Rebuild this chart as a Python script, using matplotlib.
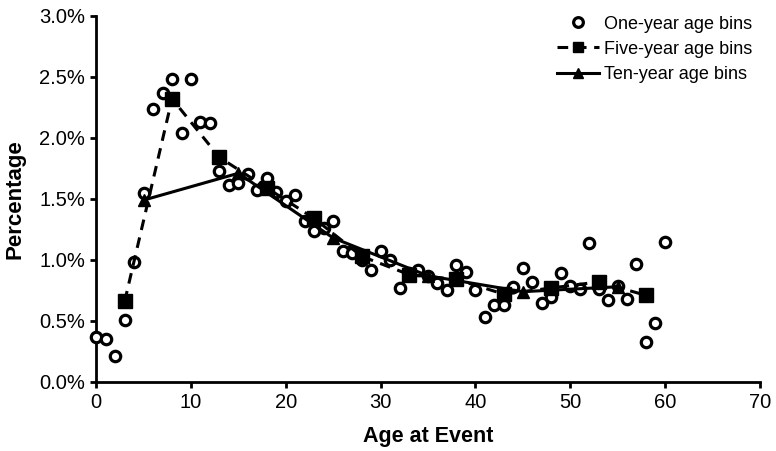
import matplotlib
matplotlib.use("Agg")
import matplotlib.pyplot as plt
from matplotlib.ticker import FuncFormatter

plt.rcParams['font.family'] = ['Liberation Sans', 'DejaVu Sans']

# one-year bins (age 0..60), percent
ages_1 = list(range(0, 61))
pct_1 = [0.37, 0.35, 0.21, 0.51, 0.98, 1.55, 2.24, 2.37, 2.48, 2.04,
         2.48, 2.13, 2.12, 1.73, 1.61, 1.63, 1.70, 1.57, 1.67, 1.56,
         1.48, 1.53, 1.32, 1.24, 1.26, 1.32, 1.07, 1.06, 1.00, 0.92,
         1.07, 1.00, 0.77, 0.89, 0.92, 0.87, 0.81, 0.75, 0.96, 0.90,
         0.75, 0.53, 0.63, 0.63, 0.78, 0.93, 0.82, 0.645, 0.70, 0.89,
         0.79, 0.76, 1.135, 0.76, 0.67, 0.79, 0.68, 0.97, 0.33, 0.48,
         1.145]

# five-year bins
ages_5 = [3, 8, 13, 18, 23, 28, 33, 38, 43, 48, 53, 58]
pct_5 = [0.66, 2.32, 1.84, 1.59, 1.34, 1.03, 0.88, 0.84, 0.72, 0.77, 0.82, 0.71]

# ten-year bins
ages_10 = [5, 15, 25, 35, 45, 55]
pct_10 = [1.49, 1.71, 1.18, 0.87, 0.74, 0.78]

fig = plt.figure(figsize=(7.76, 4.51), dpi=100)
ax = fig.add_axes([0.124, 0.153, 0.855, 0.812])

ax.plot(ages_1, pct_1, linestyle='none', marker='o', markersize=7.5,
        markerfacecolor='white', markeredgecolor='black', markeredgewidth=2.3,
        label='One-year age bins', zorder=3, clip_on=False)
ax.plot(ages_5, pct_5, linestyle=(0, (3.5, 2.5)), color='black', linewidth=2.2,
        marker='s', markersize=10, label='Five-year age bins', zorder=4)
ax.plot(ages_10, pct_10, linestyle='-', color='black', linewidth=2.2,
        marker='^', markersize=9, label='Ten-year age bins', zorder=4)

ax.set_xlim(0, 70)
ax.set_ylim(0, 3.0)
ax.set_xticks(range(0, 71, 10))
ax.set_yticks([0, 0.5, 1.0, 1.5, 2.0, 2.5, 3.0])
ax.yaxis.set_major_formatter(FuncFormatter(lambda v, p: '%.1f%%' % v))

for s in ['top', 'right']:
    ax.spines[s].set_visible(False)
for s in ['left', 'bottom']:
    ax.spines[s].set_linewidth(2)
ax.tick_params(direction='out', length=4, width=2, labelsize=14.5, pad=4)

ax.set_xlabel('Age at Event', fontsize=15.5, fontweight='bold', labelpad=10)
ax.set_ylabel('Percentage', fontsize=16, fontweight='bold', labelpad=10)

leg = ax.legend(loc='upper right', frameon=False, fontsize=13, handlelength=2.3,
                handletextpad=0.3, labelspacing=0.45, borderaxespad=0.0,
                bbox_to_anchor=(1.0, 1.02))
for h in leg.legend_handles:
    h.set_markersize(7)

fig.savefig('out.png', dpi=100)
